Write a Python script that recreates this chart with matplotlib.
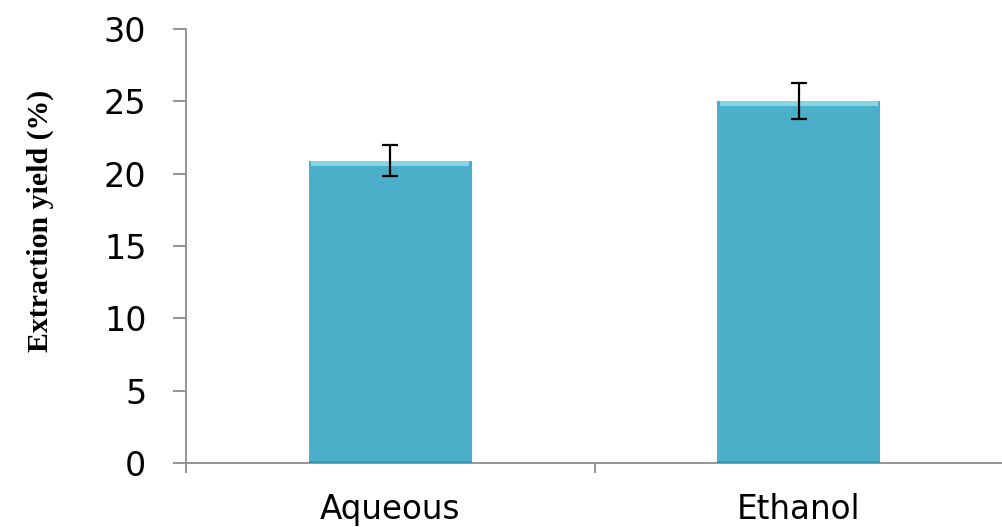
import matplotlib
matplotlib.use("Agg")
import matplotlib.pyplot as plt
import numpy as np

categories = ["Aqueous", "Ethanol"]
values = [20.9, 25.0]
errors = [1.05, 1.25]
yticks = [0, 5, 10, 15, 20, 25, 30]

W, H = 1003, 527
fig = plt.figure(figsize=(W / 100, H / 100), dpi=100)
left_px, right_px = 186, 1003
bottom_px, top_px = 463, 29
cat_px = 414.0
ax = fig.add_axes([left_px / W, (H - bottom_px) / H,
                   (right_px - left_px) / W, (bottom_px - top_px) / H])

x = np.arange(len(categories))
bar_w = 0.4
bar_color = "#4BAFC9"
ax.bar(x, values, width=bar_w, color=bar_color, edgecolor="none", zorder=2)
# bevel highlight on top
ax.bar(x, [0.35] * len(x), bottom=np.array(values) - 0.35, width=bar_w * 0.97,
       color="#86D6E8", edgecolor="none", zorder=3)
ax.bar(x, [0.15] * len(x), bottom=0, width=bar_w, color="#3E98B0",
       edgecolor="none", zorder=3)
ax.errorbar(x, values, yerr=errors, fmt="none", ecolor="black",
            elinewidth=1.6, capsize=5.5, capthick=1.6, zorder=4)

ax.set_xlim(-0.5, -0.5 + (right_px - left_px) / cat_px)
ax.set_ylim(0, 30)
ax.set_yticks(yticks)

spine_c = "#8C8C8C"
for s in ["top", "right"]:
    ax.spines[s].set_visible(False)
for s in ["left", "bottom"]:
    ax.spines[s].set_color(spine_c)
    ax.spines[s].set_linewidth(1.3)

tick_font = "DejaVu Sans"
ax.set_xticks([-0.5, 0.5, 1.5])
ax.set_xticklabels([])
ax.tick_params(axis="x", which="major", direction="out", length=7.5,
               width=1.3, color=spine_c)
ax.set_xticks(x, minor=True)
ax.set_xticklabels(categories, minor=True, fontsize=23.5, family=tick_font)
ax.tick_params(axis="x", which="minor", length=0, pad=21.5)
ax.tick_params(axis="y", direction="out", length=9.5, width=1.3,
               color=spine_c, pad=19, labelsize=24)
for lab in ax.get_yticklabels():
    lab.set_family(tick_font)

# y label: bold serif
fig.text(48 / W, (H - 221) / H, "Extraction yield (%)", rotation=90,
         rotation_mode="anchor", ha="center", va="baseline",
         family="Liberation Serif", fontweight="bold", fontsize=21.5)

fig.savefig("out.png", dpi=100)
